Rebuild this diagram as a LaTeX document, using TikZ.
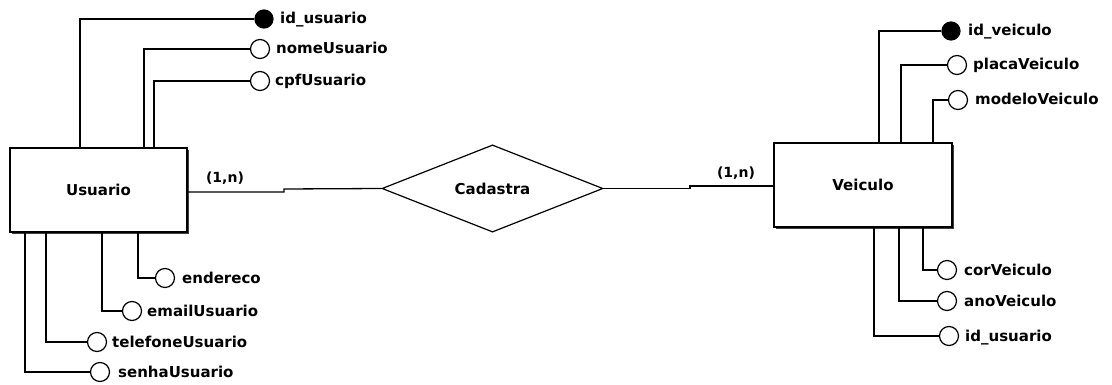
\documentclass[tikz,border=0pt]{standalone}
\usepackage{fontspec}
\setmainfont{DejaVu Sans}
\usetikzlibrary{shapes.geometric,shadows}
\begin{document}
\begin{tikzpicture}[x=1pt,y=-1pt,
  every node/.style={font=\fontsize{15}{18}\selectfont\bfseries},
  entity/.style={draw, line width=1.5pt, fill=white, rectangle, inner sep=0,
    drop shadow={shadow xshift=2pt, shadow yshift=-2pt, fill=black!75, opacity=1}},
  rel/.style={draw, line width=1.2pt, diamond, inner sep=0, minimum width=221pt, minimum height=74pt, fill=white},
  key/.style={circle, draw, fill=black, line width=1.2pt, minimum size=18pt, inner sep=0},
  attr/.style={circle, draw, fill=white, line width=1.2pt, minimum size=19pt, inner sep=0},
  lbl/.style={anchor=base west, inner sep=0},
  card/.style={inner sep=0, font=\fontsize{14}{16}\selectfont\bfseries},
  conn/.style={line width=1.3pt}
]
\useasboundingbox (0,0) rectangle (1112,385);

% entities and relationship
\node[entity, minimum width=177pt, minimum height=84pt] (usu) at (98.5,190) {Usuario};
\node[entity, minimum width=178pt, minimum height=84pt] (vei) at (863,185) {Veiculo};
\node[rel] (cad) at (492.5,188.5) {Cadastra};

% relationship connectors
\coordinate (uR) at (187,192);
\coordinate (vL) at (774,186);
\draw[conn] (uR) -- (284,192) -- (284,189) -- (cad.west);
\draw[conn] (cad.east) -- (690,188.5) -- (690,186) -- (vL);
\node[card] (c1) at (225,178) {(1,n)};
\node[card] (c2) at (736,173) {(1,n)};

% Usuario attributes
\node[key]  (a1) at (264,19) {};  \node[lbl] (t1) at (280,24) {id\_usuario};
\node[attr] (a2) at (260,49) {};  \node[lbl] (t2) at (276,54) {nomeUsuario};
\node[attr] (a3) at (260,81) {};  \node[lbl] (t3) at (275,86) {cpfUsuario};
\node[attr] (a4) at (165,278) {}; \node[lbl] (t4) at (182,283) {endereco};
\node[attr] (a5) at (132,311) {}; \node[lbl] (t5) at (147,316) {emailUsuario};
\node[attr] (a6) at (97,342) {};  \node[lbl] (t6) at (112,347) {telefoneUsuario};
\node[attr] (a7) at (100,372) {}; \node[lbl] (t7) at (118,377) {senhaUsuario};
\coordinate (u1) at (80,148);
\coordinate (u2) at (144,148);
\coordinate (u3) at (154,148);
\coordinate (u4) at (138,232);
\coordinate (u5) at (102,232);
\coordinate (u6) at (46,232);
\coordinate (u7) at (25,232);
\foreach \i in {1,...,7} {\draw[conn] (a\i) -| (u\i);}

% Veiculo attributes
\node[key]  (b1) at (951,31) {};  \node[lbl] (s1) at (968,36) {id\_veiculo};
\node[attr] (b2) at (957,65) {};  \node[lbl] (s2) at (973,70) {placaVeiculo};
\node[attr] (b3) at (958,100) {}; \node[lbl] (s3) at (975,105) {modeloVeiculo};
\node[attr] (b4) at (947,270) {}; \node[lbl] (s4) at (964,275) {corVeiculo};
\node[attr] (b5) at (947,301) {}; \node[lbl] (s5) at (964,306) {anoVeiculo};
\node[attr] (b6) at (949,336) {}; \node[lbl] (s6) at (965,341) {id\_usuario};
\coordinate (v1) at (879,143);
\coordinate (v2) at (901,143);
\coordinate (v3) at (933,143);
\coordinate (v4) at (923,227);
\coordinate (v5) at (899,227);
\coordinate (v6) at (874,227);
\foreach \i in {1,...,6} {\draw[conn] (b\i) -| (v\i);}
\end{tikzpicture}
\end{document}
